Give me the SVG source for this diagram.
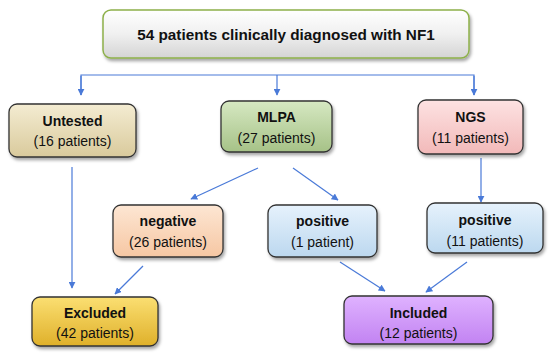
<svg xmlns="http://www.w3.org/2000/svg" width="550" height="355" viewBox="0 0 550 355">
<defs>
<style>
.box{stroke:#333;stroke-width:1.3;filter:url(#sh)}
.t{font-family:"Liberation Sans",Arial,sans-serif;font-size:14px;fill:#111;text-anchor:middle}
.b{font-weight:bold}
.c{fill:none;stroke:#4a7ad8;stroke-width:1.2;marker-end:url(#ah)}
</style>
<filter id="sh" x="-10%" y="-10%" width="125%" height="135%">
<feDropShadow dx="1.5" dy="2.5" stdDeviation="1.5" flood-color="#000" flood-opacity="0.35"/>
</filter>
<marker id="ah" viewBox="0 0 10 10" refX="9" refY="5" markerWidth="7" markerHeight="7" markerUnits="userSpaceOnUse" orient="auto">
<path d="M0,0 L10,5 L0,10 z" fill="#4a7ad8"/>
</marker>
<linearGradient id="gTop" x1="0" y1="0" x2="0" y2="1"><stop offset="0" stop-color="#ffffff"/><stop offset="0.5" stop-color="#f0f0f0"/><stop offset="1" stop-color="#d4d4d4"/></linearGradient>
<linearGradient id="gUnt" x1="0" y1="0" x2="0" y2="1"><stop offset="0" stop-color="#f4ecd2"/><stop offset="1" stop-color="#d9ca9c"/></linearGradient>
<linearGradient id="gMlpa" x1="0" y1="0" x2="0" y2="1"><stop offset="0" stop-color="#d6e8c2"/><stop offset="1" stop-color="#a6c287"/></linearGradient>
<linearGradient id="gNgs" x1="0" y1="0" x2="0" y2="1"><stop offset="0" stop-color="#fde2e2"/><stop offset="1" stop-color="#f2b9b9"/></linearGradient>
<linearGradient id="gNeg" x1="0" y1="0" x2="0" y2="1"><stop offset="0" stop-color="#fde6d3"/><stop offset="1" stop-color="#f6c7a3"/></linearGradient>
<linearGradient id="gPos" x1="0" y1="0" x2="0" y2="1"><stop offset="0" stop-color="#e6f2fc"/><stop offset="1" stop-color="#bcd8ef"/></linearGradient>
<linearGradient id="gExc" x1="0" y1="0" x2="0" y2="1"><stop offset="0" stop-color="#fbdf72"/><stop offset="1" stop-color="#dfb02a"/></linearGradient>
<linearGradient id="gInc" x1="0" y1="0" x2="0" y2="1"><stop offset="0" stop-color="#dfb2ff"/><stop offset="1" stop-color="#c283f2"/></linearGradient>
</defs>
<rect width="550" height="355" fill="#ffffff"/>

<g id="connectors">
<path class="c" d="M81,95 L81,75 L474,75 L474,95" style="marker-end:none"/>
<path class="c" d="M81,76 L81,95"/>
<path class="c" d="M277,75 L277,95"/>
<path class="c" d="M474,76 L474,95"/>
<path class="c" d="M72,167 L72,288"/>
<path class="c" d="M258,168 L191,199"/>
<path class="c" d="M293,168 L338,200"/>
<path class="c" d="M481,158 L481,202"/>
<path class="c" d="M143,266 L115,294"/>
<path class="c" d="M340,262 L385,291"/>
<path class="c" d="M467,262 L426,292"/>
</g>

<g id="top">
<rect x="103" y="10" width="366" height="48" rx="8" fill="url(#gTop)" stroke="#8db04a" stroke-width="1.5" filter="url(#sh)"/>
<text class="t b" x="286" y="40" style="font-size:15.3px">54 patients clinically diagnosed with NF1</text>
</g>

<g id="untested">
<rect class="box" x="9" y="104" width="127" height="53" rx="8" fill="url(#gUnt)"/>
<text class="t b" x="72.5" y="126">Untested</text>
<text class="t" x="72.5" y="146">(16 patients)</text>
</g>

<g id="mlpa">
<rect class="box" x="221" y="101" width="111" height="51" rx="8" fill="url(#gMlpa)"/>
<text class="t b" x="276.5" y="122">MLPA</text>
<text class="t" x="276.5" y="143">(27 patients)</text>
</g>

<g id="ngs">
<rect class="box" x="418" y="100" width="105" height="54" rx="8" fill="url(#gNgs)"/>
<text class="t b" x="470.5" y="122">NGS</text>
<text class="t" x="470.5" y="143">(11 patients)</text>
</g>

<g id="negative">
<rect class="box" x="113" y="205" width="110" height="52" rx="8" fill="url(#gNeg)"/>
<text class="t b" x="168" y="226">negative</text>
<text class="t" x="168" y="247">(26 patients)</text>
</g>

<g id="positive1">
<rect class="box" x="268" y="205" width="109" height="52" rx="8" fill="url(#gPos)"/>
<text class="t b" x="322.5" y="226">positive</text>
<text class="t" x="322.5" y="247">(1 patient)</text>
</g>

<g id="positive11">
<rect class="box" x="427" y="203" width="116" height="50" rx="8" fill="url(#gPos)"/>
<text class="t b" x="485" y="225">positive</text>
<text class="t" x="485" y="246">(11 patients)</text>
</g>

<g id="excluded">
<rect class="box" x="32" y="297" width="126" height="49" rx="8" fill="url(#gExc)"/>
<text class="t b" x="95" y="318">Excluded</text>
<text class="t" x="95" y="338">(42 patients)</text>
</g>

<g id="included">
<rect class="box" x="344" y="296" width="149" height="48" rx="8" fill="url(#gInc)"/>
<text class="t b" x="418.5" y="318">Included</text>
<text class="t" x="418.5" y="338">(12 patients)</text>
</g>
</svg>
